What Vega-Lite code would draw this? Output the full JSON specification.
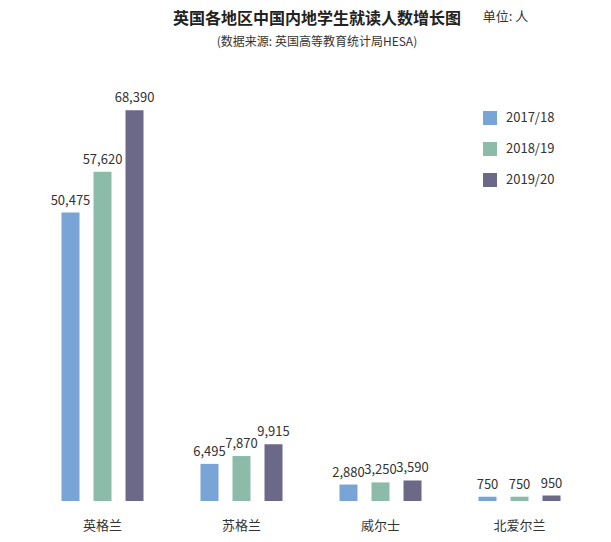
{
  "$schema": "https://vega.github.io/schema/vega-lite/v6.json",
  "width": 556,
  "height": 400,
  "autosize": "none",
  "padding": {"left": 33, "top": 101, "right": 22, "bottom": 41},
  "background": "white",
  "config": {"view": {"stroke": null}, "font": "Noto Sans CJK SC"},
  "title": {
    "text": "英国各地区中国内地学生就读人数增长图",
    "subtitle": "(数据来源: 英国高等教育统计局HESA)",
    "frame": "group",
    "anchor": "middle",
    "font": "Noto Sans CJK SC",
    "fontSize": 16,
    "fontWeight": "bold",
    "color": "#222222",
    "subtitleFont": "Noto Sans CJK SC",
    "subtitleFontSize": 12,
    "subtitleColor": "#333333",
    "subtitlePadding": 10,
    "offset": -37,
    "dx": 6
  },
  "layer": [
    {
      "data": {"values": [
        {"region": "英格兰", "year": "2017/18", "students": 50475},
        {"region": "英格兰", "year": "2018/19", "students": 57620},
        {"region": "英格兰", "year": "2019/20", "students": 68390},
        {"region": "苏格兰", "year": "2017/18", "students": 6495},
        {"region": "苏格兰", "year": "2018/19", "students": 7870},
        {"region": "苏格兰", "year": "2019/20", "students": 9915},
        {"region": "威尔士", "year": "2017/18", "students": 2880},
        {"region": "威尔士", "year": "2018/19", "students": 3250},
        {"region": "威尔士", "year": "2019/20", "students": 3590},
        {"region": "北爱尔兰", "year": "2017/18", "students": 750},
        {"region": "北爱尔兰", "year": "2018/19", "students": 750},
        {"region": "北爱尔兰", "year": "2019/20", "students": 950}
      ]},
      "encoding": {
        "x": {
          "field": "region", "type": "nominal",
          "sort": ["英格兰", "苏格兰", "威尔士", "北爱尔兰"],
          "scale": {"paddingInner": 0, "paddingOuter": 0},
          "title": null,
          "axis": {"domain": false, "ticks": false, "labelAngle": 0, "labelFontSize": 13, "labelColor": "#333333", "labelPadding": 18, "labelFont": "Noto Sans CJK SC"}
        },
        "xOffset": {"field": "year", "type": "nominal", "scale": {"paddingInner": 0.4375, "paddingOuter": 0.89}},
        "y": {"field": "students", "type": "quantitative", "scale": {"domain": [0, 70000]}, "axis": null}
      },
      "layer": [
        {
          "mark": {"type": "bar"},
          "encoding": {
            "color": {
              "field": "year", "type": "nominal",
              "scale": {"domain": ["2017/18", "2018/19", "2019/20"], "range": ["#78a5d5", "#8cbba9", "#6c6888"]},
              "legend": {
                "title": null, "orient": "none", "legendX": 450, "legendY": 10,
                "symbolType": "square", "symbolSize": 196, "symbolStrokeWidth": 0, "symbolOpacity": 1,
                "labelFontSize": 13, "labelColor": "#333333", "labelOffset": 9, "rowPadding": 17,
                "labelFont": "Noto Sans CJK SC"
              }
            }
          }
        },
        {
          "mark": {"type": "text", "baseline": "bottom", "dy": -5, "fontSize": 13, "color": "#333333", "font": "Noto Sans CJK SC"},
          "encoding": {"text": {"field": "students", "type": "quantitative", "format": ","}}
        }
      ]
    },
    {
      "data": {"values": [{"label": "单位: 人"}]},
      "mark": {"type": "text", "fontSize": 13, "color": "#333333", "dx": -14, "font": "Noto Sans CJK SC"},
      "encoding": {
        "x": {"datum": "北爱尔兰"},
        "y": {"datum": 84700},
        "text": {"field": "label", "type": "nominal"}
      }
    }
  ]
}
